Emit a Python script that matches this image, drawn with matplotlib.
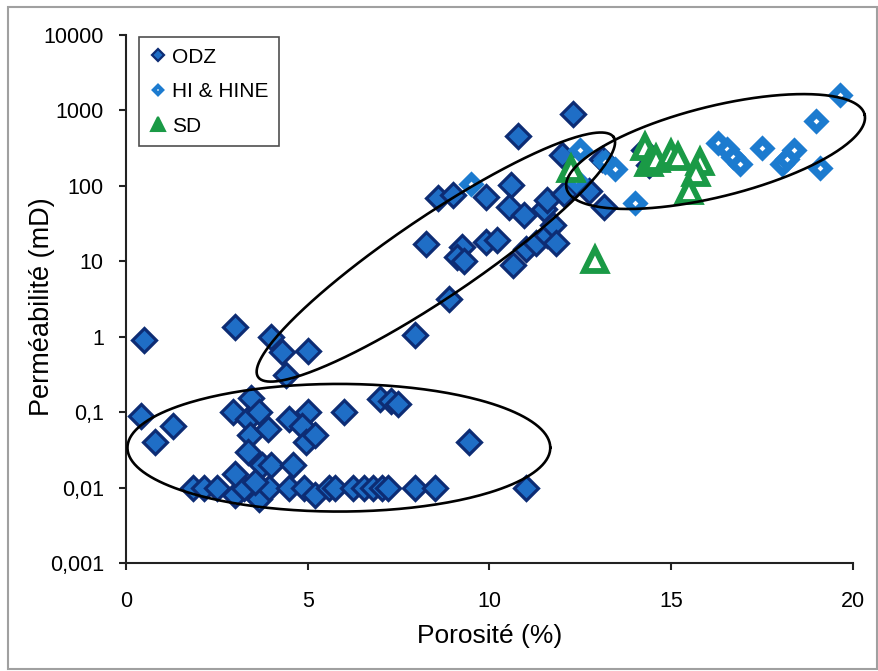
import numpy as np
import matplotlib
matplotlib.use('Agg')
import matplotlib.pyplot as plt
from matplotlib.lines import Line2D
from matplotlib.patches import Rectangle
from matplotlib.ticker import FixedLocator, NullLocator

plt.rcParams['font.family'] = ['Liberation Sans', 'DejaVu Sans']

# ODZ samples (porosity %, permeability mD)
odz_x = [0.4, 0.5, 0.8, 1.3,
         1.85, 2.15, 2.5, 3.0, 3.25, 3.65, 3.95, 4.5, 4.9, 5.2, 5.6, 5.75,
         6.25, 6.55, 6.8, 7.05, 7.2, 7.95, 8.5, 11.0,
         2.95, 3.0, 3.0, 3.45, 3.35, 3.4, 3.35, 3.65, 3.9, 3.75, 4.0, 3.55,
         4.5, 4.6, 5.0, 4.85, 4.95, 5.2, 6.0, 7.0, 7.3, 7.5, 9.45, 4.4,
         4.0, 4.3, 5.0, 7.95, 8.9, 8.25, 9.25, 9.1, 9.3, 9.9, 10.2, 8.6,
         9.0, 9.9, 10.6, 10.55, 10.95, 10.8, 10.65, 11.0, 11.3, 11.6, 11.75,
         11.85, 11.5, 11.6, 12.05, 12.0, 12.3, 12.75, 13.1, 13.15, 14.25, 14.4]
odz_y = [0.09, 0.9, 0.04, 0.065,
         0.01, 0.01, 0.01, 0.008, 0.01, 0.007, 0.01, 0.01, 0.01, 0.008, 0.01, 0.01,
         0.01, 0.01, 0.01, 0.01, 0.01, 0.01, 0.01, 0.01,
         0.1, 0.015, 1.35, 0.155, 0.08, 0.05, 0.03, 0.1, 0.06, 0.02, 0.02, 0.012,
         0.08, 0.02, 0.1, 0.065, 0.04, 0.05, 0.1, 0.15, 0.14, 0.13, 0.04, 0.31,
         1.0, 0.62, 0.65, 1.05, 3.2, 17, 15.5, 11.5, 10, 18, 19, 68,
         75, 72, 102, 53, 41, 460, 9, 14.5, 17.5, 22, 30,
         17.5, 50, 65, 78, 255, 900, 85, 230, 53, 300, 190]

# HI & HINE samples
hi_x = [9.5, 12.5, 12.4, 13.45, 13.2, 14.0, 16.3, 16.55, 16.7, 16.9, 17.5,
        18.05, 18.2, 18.4, 19.0, 19.1, 19.65]
hi_y = [106, 300, 119, 165, 210, 59, 370, 310, 240, 195, 315,
        195, 225, 295, 720, 175, 1620]

# SD samples
sd_x = [12.25, 12.9, 14.3, 14.4, 14.6, 15.0, 15.2, 15.8, 15.7, 15.5]
sd_y = [165, 10.3, 330, 200, 230, 265, 240, 210, 150, 85]

xticks = [0, 5, 10, 15, 20]
yticks = [0.001, 0.01, 0.1, 1, 10, 100, 1000, 10000]
ytick_labels = ['0,001', '0,01', '0,1', '1', '10', '100', '1000', '10000']

# grouping ellipses: centre (x, log10 k) and semi-axis vectors
ell_centres = [(5.86, -1.472), (8.53, 1.056), (16.23, 2.455)]
ell_u = [(5.82, 0.0), (4.894, 1.590), (4.103, 0.491)]
ell_v = [(0.0, 0.846), (0.625, -0.446), (0.300, -0.582)]

fig = plt.figure(figsize=(8.79, 6.71), dpi=100)
fig.patches.append(Rectangle((0.009, 0.003), 0.989, 0.987, transform=fig.transFigure,
                             fill=False, edgecolor='#a0a0a0', lw=1.5))
ax = fig.add_axes([126 / 879, 1 - 563 / 671, 726.5 / 879, 528 / 671])

ax.plot(odz_x, odz_y, 'D', ls='none', ms=12, mfc='#1F6EC6', mec='#0D2C74', mew=2.3, zorder=3)
ax.plot(hi_x, hi_y, 'D', ls='none', ms=8, mfc='white', mec='#1C7BCF', mew=5.2, zorder=4)
ax.plot(sd_x, sd_y, '^', ls='none', ms=15.5, mfc='white', mec='#1A9A46', mew=4.2, zorder=5)

t = np.linspace(0, 2 * np.pi, 300)
for c, u, v in zip(ell_centres, ell_u, ell_v):
    ex = c[0] + u[0] * np.cos(t) + v[0] * np.sin(t)
    ey = c[1] + u[1] * np.cos(t) + v[1] * np.sin(t)
    ax.plot(ex, 10 ** ey, color='black', lw=1.9, zorder=6, clip_on=False)

ax.set_yscale('log')
ax.set_xlim(0, 20)
ax.set_ylim(0.001, 10000)
ax.xaxis.set_major_locator(FixedLocator(xticks))
ax.yaxis.set_major_locator(FixedLocator(yticks))
ax.yaxis.set_minor_locator(NullLocator())
ax.set_yticklabels(ytick_labels)
for s in ['top', 'right']:
    ax.spines[s].set_visible(False)
for s in ['left', 'bottom']:
    ax.spines[s].set_linewidth(1.5)
    ax.spines[s].set_color('#222222')
ax.tick_params(axis='both', direction='out', length=5, width=1.5, color='#222222',
               labelsize=15.5)
ax.tick_params(axis='x', pad=15)
ax.tick_params(axis='y', pad=11)

ax.set_xlabel('Porosité (%)', fontsize=19)
ax.set_ylabel('Perméabilité (mD)', fontsize=19.5)
ax.xaxis.set_label_coords(0.5, -0.115)
ax.yaxis.set_label_coords(-0.098, 0.486)

handles = [
    Line2D([], [], marker='D', ls='none', ms=6, mfc='#1F6EC6', mec='#0D2C74', mew=1.6),
    Line2D([], [], marker='D', ls='none', ms=4.5, mfc='white', mec='#1C7BCF', mew=3),
    Line2D([], [], marker='^', ls='none', ms=10, mfc='#1A9A46', mec='#1A9A46', mew=1.5),
]
leg = ax.legend(handles, ['ODZ', 'HI & HINE', 'SD'], loc='upper left',
                bbox_to_anchor=(0.018, 0.996), fontsize=15, frameon=True,
                fancybox=False, edgecolor='#222222', handlelength=0.8,
                handletextpad=0.3, labelspacing=0.75, borderpad=0.5,
                borderaxespad=0)
leg.get_frame().set_linewidth(1.2)

fig.savefig('out.png', dpi=100)
